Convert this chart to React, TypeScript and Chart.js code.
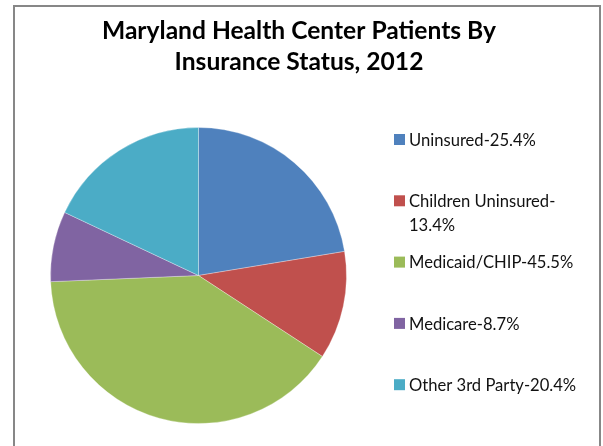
import React, { useEffect, useRef } from "react";
import Chart from "chart.js/auto";

const titleLines = ["Maryland Health Center Patients By", "Insurance Status, 2012"];
const categories = ["Uninsured", "Children Uninsured", "Medicaid/CHIP", "Medicare", "Other 3rd Party"];
const values = [25.4, 13.4, 45.5, 8.7, 20.4];
const colors = ["#4F81BD", "#C0504D", "#9BBB59", "#8064A2", "#4BACC6"];

const legendLabels = categories.map((c, i) => `${c}-${values[i]}%`);

function wrapText(ctx: CanvasRenderingContext2D, text: string, maxWidth: number): string[] {
  const lines: string[] = [];
  let rest = text;
  while (ctx.measureText(rest).width > maxWidth) {
    let cut = -1;
    for (let i = 1; i < rest.length; i++) {
      const ch = rest[i - 1];
      if (ch === "-" || ch === " ") {
        const part = rest.slice(0, i).trimEnd();
        if (ctx.measureText(part).width <= maxWidth) cut = i;
      }
    }
    if (cut <= 0) break;
    lines.push(rest.slice(0, cut).trimEnd());
    rest = rest.slice(cut).trimStart();
  }
  lines.push(rest);
  return lines;
}

const customDecor = {
  id: "customDecor",
  afterDraw(chart: any) {
    const ctx: CanvasRenderingContext2D = chart.ctx;
    ctx.save();
    // Title
    ctx.fillStyle = "#000000";
    ctx.font = "bold 24.6px Lato";
    ctx.textAlign = "center";
    ctx.textBaseline = "alphabetic";
    const titleX = 299;
    titleLines.forEach((line, i) => {
      ctx.fillText(line, titleX, 39 + i * 31);
    });
    // Legend
    const labels: string[] = chart.data.labels;
    const bg: string[] = chart.data.datasets[0].backgroundColor;
    ctx.font = "16.6px Lato";
    ctx.textAlign = "left";
    ctx.textBaseline = "middle";
    const boxX = 394;
    const textX = 409;
    const firstY = 139.5;
    const step = 61.3;
    const lineH = 23.5;
    labels.forEach((lab, i) => {
      const cy = firstY + i * step;
      ctx.fillStyle = bg[i];
      ctx.fillRect(boxX, cy - 5.5, 11, 11);
      ctx.fillStyle = "#111111";
      const lines = wrapText(ctx, lab, 180);
      lines.forEach((ln, j) => ctx.fillText(ln, textX, cy + 1 + j * lineH));
    });
    ctx.restore();
  },
};

export default function App() {
  const canvasRef = useRef<HTMLCanvasElement | null>(null);
  useEffect(() => {
    if (!canvasRef.current) return;
    const chart = new Chart(canvasRef.current, {
      type: "pie",
      data: {
        labels: legendLabels,
        datasets: [
          {
            data: values,
            backgroundColor: colors,
            borderColor: "rgba(255,255,255,0.3)",
            borderWidth: 1,
          },
        ],
      },
      options: {
        animation: false,
        responsive: false,
        devicePixelRatio: 1,
        layout: { padding: { left: 50, top: 127, right: 256, bottom: 22 } },
        plugins: {
          legend: { display: false },
          title: { display: false },
          tooltip: { enabled: false },
        },
      },
      plugins: [customDecor],
    });
    return () => chart.destroy();
  }, []);

  return (
    <div style={{ position: "fixed", left: 0, top: 0, width: 603, height: 446, background: "#fff", overflow: "hidden" }}>
      <div
        style={{
          position: "absolute",
          left: 13,
          top: 5,
          width: 588,
          height: 470,
          boxSizing: "border-box",
          border: "2px solid #878787",
        }}
      />
      <canvas ref={canvasRef} width={603} height={446} style={{ position: "absolute", left: 0, top: 0 }} />
    </div>
  );
}
